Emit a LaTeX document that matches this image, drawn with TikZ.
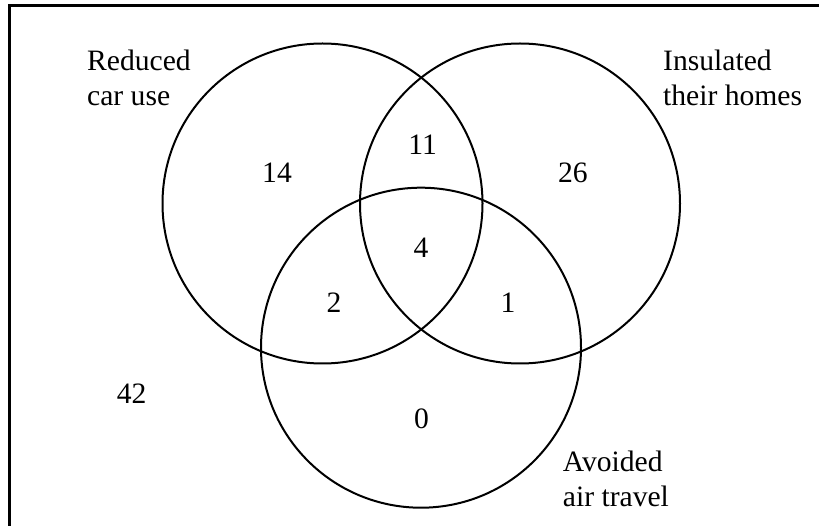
\documentclass[tikz,border=0pt]{standalone}
\usepackage{fontspec}
\setmainfont{Liberation Serif}
\begin{document}
\begin{tikzpicture}[x=1pt,y=-1pt,
  setcircle/.style={circle,draw,line width=2pt,minimum size=320pt,inner sep=0pt},
  labeltext/.style={anchor=north west,inner sep=0pt,align=left,font=\fontsize{29.6}{35}\selectfont},
  count/.style={anchor=base,inner sep=0pt,font=\fontsize{29.6}{35}\selectfont}]
\useasboundingbox (0,0) rectangle (819,526);
\coordinate (fbl) at (9.5,530);
\coordinate (ftl) at (9.5,5.3);
\coordinate (ftr) at (823,5.3);
\draw[line width=2.5pt] (fbl) -- (ftl) -- (ftr);
\node[setcircle] (car) at (322.5,203.5) {};
\node[setcircle] (home) at (520,203.5) {};
\node[setcircle] (air) at (421,347.7) {};
\node[labeltext] (lcar) at (87,50) {Reduced\\car use};
\node[labeltext] (lhome) at (663,50) {Insulated\\their homes};
\node[labeltext] (lair) at (562.7,451) {Avoided\\air travel};
\node[count] (n14) at (277,183) {14};
\node[count] (n11) at (422.7,155) {11};
\node[count] (n26) at (572.8,183) {26};
\node[count] (n4) at (421,257.5) {4};
\node[count] (n2) at (334,312.7) {2};
\node[count] (n1) at (508,312.7) {1};
\node[count] (n42) at (131.7,403) {42};
\node[count] (n0) at (421.5,428) {0};
\end{tikzpicture}
\end{document}
